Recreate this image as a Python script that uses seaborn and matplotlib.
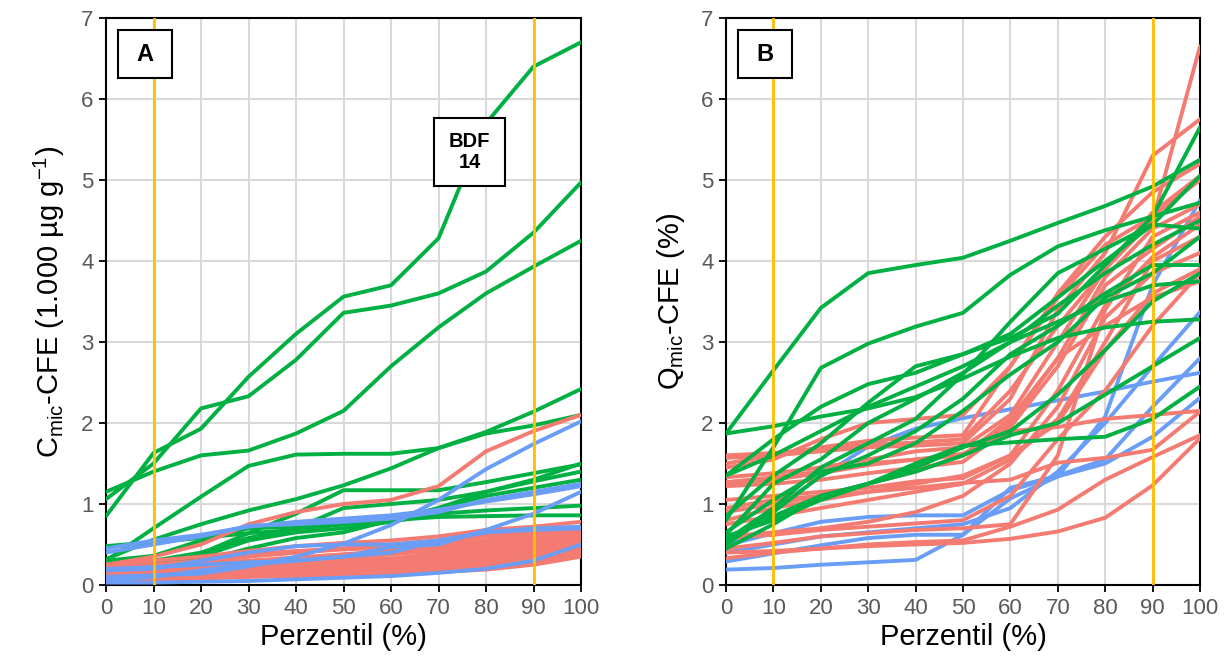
import numpy as np
import pandas as pd
import matplotlib
matplotlib.use("Agg")
import matplotlib.pyplot as plt
from matplotlib.patches import Rectangle
import seaborn as sns

# ---------------- data ----------------
percentiles = [0, 10, 20, 30, 40, 50, 60, 70, 80, 90, 100]

# Panel A : Cmic-CFE (1.000 µg g-1)
A_green = [
    [0.85, 1.63, 1.93, 2.57, 3.10, 3.56, 3.70, 4.28, 5.70, 6.40, 6.70],   # BDF 14
    [1.06, 1.50, 2.18, 2.33, 2.78, 3.36, 3.45, 3.60, 3.87, 4.35, 4.97],
    [1.15, 1.40, 1.60, 1.66, 1.87, 2.15, 2.70, 3.18, 3.60, 3.93, 4.25],
    [0.30, 0.70, 1.09, 1.47, 1.61, 1.62, 1.62, 1.69, 1.87, 1.97, 2.10],
    [0.32, 0.56, 0.75, 0.92, 1.06, 1.23, 1.44, 1.69, 1.89, 2.14, 2.42],
    [0.17, 0.23, 0.39, 0.64, 0.88, 1.17, 1.17, 1.17, 1.27, 1.38, 1.49],
    [0.48, 0.53, 0.58, 0.64, 0.68, 0.75, 0.80, 0.95, 1.15, 1.28, 1.40],
    [0.30, 0.36, 0.55, 0.70, 0.72, 0.75, 0.80, 0.84, 0.85, 0.86, 0.86],
    [0.20, 0.25, 0.35, 0.55, 0.65, 0.70, 0.78, 0.88, 0.92, 0.95, 0.98],
    [0.20, 0.30, 0.40, 0.58, 0.70, 0.95, 1.00, 1.05, 1.15, 1.30, 1.50],
    [0.18, 0.25, 0.30, 0.45, 0.58, 0.65, 0.80, 0.95, 1.10, 1.20, 1.30],
    [0.10, 0.12, 0.15, 0.18, 0.20, 0.22, 0.25, 0.28, 0.32, 0.35, 0.40],
]
A_red = [
    [0.25, 0.35, 0.50, 0.75, 0.90, 1.00, 1.05, 1.22, 1.65, 1.90, 2.10],
    [0.25, 0.30, 0.35, 0.42, 0.48, 0.52, 0.55, 0.60, 0.68, 0.72, 0.78],
    [0.22, 0.25, 0.30, 0.38, 0.42, 0.45, 0.48, 0.52, 0.62, 0.66, 0.70],
    [0.20, 0.22, 0.26, 0.30, 0.34, 0.38, 0.42, 0.48, 0.55, 0.60, 0.62],
    [0.18, 0.20, 0.22, 0.26, 0.30, 0.33, 0.38, 0.42, 0.52, 0.58, 0.60],
    [0.15, 0.17, 0.20, 0.23, 0.27, 0.30, 0.33, 0.38, 0.48, 0.55, 0.58],
    [0.14, 0.15, 0.18, 0.21, 0.24, 0.27, 0.30, 0.35, 0.45, 0.52, 0.55],
    [0.12, 0.14, 0.16, 0.19, 0.22, 0.25, 0.28, 0.32, 0.42, 0.48, 0.52],
    [0.12, 0.13, 0.15, 0.17, 0.20, 0.23, 0.26, 0.30, 0.38, 0.45, 0.50],
    [0.10, 0.12, 0.14, 0.16, 0.18, 0.21, 0.24, 0.27, 0.35, 0.42, 0.48],
    [0.10, 0.11, 0.13, 0.15, 0.17, 0.19, 0.22, 0.25, 0.32, 0.40, 0.45],
    [0.08, 0.10, 0.12, 0.14, 0.16, 0.18, 0.20, 0.24, 0.30, 0.38, 0.43],
    [0.08, 0.09, 0.11, 0.13, 0.15, 0.17, 0.19, 0.22, 0.28, 0.35, 0.40],
    [0.07, 0.08, 0.10, 0.12, 0.14, 0.15, 0.17, 0.20, 0.25, 0.32, 0.38],
    [0.06, 0.07, 0.09, 0.11, 0.12, 0.14, 0.15, 0.18, 0.22, 0.28, 0.36],
    [0.05, 0.06, 0.08, 0.10, 0.11, 0.12, 0.14, 0.16, 0.19, 0.25, 0.35],
    [0.18, 0.22, 0.28, 0.35, 0.40, 0.45, 0.50, 0.55, 0.62, 0.64, 0.65],
    [0.15, 0.18, 0.22, 0.28, 0.32, 0.36, 0.42, 0.45, 0.55, 0.60, 0.68],
    [0.20, 0.24, 0.30, 0.36, 0.40, 0.44, 0.46, 0.50, 0.60, 0.62, 0.64],
    [0.10, 0.13, 0.17, 0.20, 0.24, 0.28, 0.31, 0.36, 0.46, 0.54, 0.60],
]
A_blue = [
    [0.45, 0.55, 0.62, 0.72, 0.78, 0.82, 0.86, 0.93, 1.03, 1.12, 1.22],
    [0.10, 0.12, 0.14, 0.23, 0.35, 0.51, 0.74, 1.05, 1.43, 1.74, 2.02],
    [0.05, 0.10, 0.18, 0.25, 0.30, 0.35, 0.47, 0.50, 0.68, 0.88, 1.15],
    [0.18, 0.20, 0.30, 0.40, 0.48, 0.50, 0.50, 0.55, 0.65, 0.70, 0.72],
    [0.03, 0.03, 0.04, 0.05, 0.07, 0.09, 0.11, 0.15, 0.20, 0.30, 0.50],
    [0.20, 0.22, 0.25, 0.28, 0.30, 0.35, 0.40, 0.55, 0.65, 0.68, 0.70],
    [0.40, 0.50, 0.60, 0.73, 0.75, 0.78, 0.82, 0.90, 1.05, 1.15, 1.25],
]

# Panel B : Qmic-CFE (%)
B_green = [
    [1.87, 2.65, 3.42, 3.85, 3.95, 4.04, 4.25, 4.47, 4.68, 4.92, 5.25],
    [0.80, 1.70, 2.68, 2.98, 3.19, 3.36, 3.83, 4.18, 4.38, 4.55, 4.72],
    [1.87, 1.96, 2.08, 2.18, 2.32, 2.55, 2.82, 3.05, 3.18, 3.25, 3.28],
    [1.35, 1.80, 2.20, 2.48, 2.62, 2.85, 3.05, 3.35, 3.95, 4.55, 5.65],
    [0.85, 1.35, 1.75, 2.25, 2.70, 2.85, 3.10, 3.55, 4.00, 4.45, 5.05],
    [0.62, 1.25, 1.55, 2.00, 2.30, 2.62, 3.00, 3.45, 3.85, 4.20, 4.50],
    [0.55, 0.95, 1.45, 1.75, 2.05, 2.60, 3.25, 3.85, 4.15, 4.45, 4.40],
    [0.50, 0.90, 1.35, 1.60, 1.90, 2.30, 2.85, 3.20, 3.60, 3.95, 3.95],
    [0.65, 1.05, 1.40, 1.50, 1.75, 2.15, 2.60, 3.00, 3.55, 3.85, 4.30],
    [0.45, 0.75, 1.10, 1.25, 1.45, 1.70, 1.90, 2.35, 2.90, 3.50, 3.85],
    [0.55, 0.85, 1.10, 1.25, 1.50, 1.72, 1.76, 1.80, 1.83, 2.05, 2.45],
    [0.60, 0.80, 1.05, 1.25, 1.40, 1.60, 1.85, 2.00, 2.35, 2.70, 3.05],
    [1.35, 1.60, 1.90, 2.20, 2.45, 2.70, 3.00, 3.25, 3.50, 3.70, 3.75],
]
B_red = [
    [1.60, 1.63, 1.68, 1.73, 1.76, 1.80, 2.40, 3.20, 3.90, 4.60, 5.05],
    [1.57, 1.60, 1.65, 1.70, 1.72, 1.75, 2.30, 3.40, 4.10, 5.30, 5.75],
    [1.45, 1.55, 1.80, 2.00, 2.05, 2.10, 2.70, 3.55, 4.20, 4.55, 5.00],
    [1.33, 1.38, 1.45, 1.55, 1.65, 1.70, 2.10, 3.00, 3.90, 4.50, 6.65],
    [1.27, 1.33, 1.40, 1.50, 1.55, 1.60, 2.00, 2.80, 3.80, 4.40, 4.70],
    [1.22, 1.25, 1.30, 1.38, 1.45, 1.52, 1.95, 2.70, 3.70, 4.15, 4.55],
    [1.05, 1.10, 1.15, 1.20, 1.28, 1.32, 1.60, 2.40, 3.45, 4.05, 4.45],
    [0.95, 1.05, 1.10, 1.15, 1.20, 1.26, 1.30, 1.51, 1.57, 1.67, 2.14],
    [0.80, 0.95, 1.05, 1.15, 1.25, 1.35, 1.60, 2.00, 2.90, 3.60, 3.90],
    [0.75, 0.85, 0.95, 1.05, 1.15, 1.25, 1.55, 2.05, 3.00, 4.00, 4.30],
    [0.58, 0.62, 0.68, 0.72, 0.76, 0.80, 1.10, 1.80, 2.40, 3.20, 3.85],
    [0.45, 0.52, 0.60, 0.64, 0.68, 0.70, 0.75, 1.60, 3.40, 4.30, 4.60],
    [0.40, 0.42, 0.45, 0.48, 0.50, 0.52, 0.57, 0.66, 0.83, 1.23, 1.81],
    [0.33, 0.40, 0.45, 0.50, 0.53, 0.55, 0.72, 0.93, 1.30, 1.58, 1.85],
    [1.50, 1.60, 1.70, 1.78, 1.82, 1.85, 2.70, 3.60, 4.30, 4.85, 5.20],
    [0.90, 1.00, 1.10, 1.25, 1.40, 1.60, 2.05, 2.80, 3.20, 3.55, 3.75],
    [0.60, 0.65, 0.70, 0.78, 0.90, 1.10, 1.50, 2.20, 3.30, 3.85, 4.10],
    [1.25, 1.30, 1.38, 1.48, 1.55, 1.62, 1.90, 1.95, 2.05, 2.10, 2.15],
]
B_blue = [
    [0.47, 0.93, 1.34, 1.71, 1.93, 2.06, 2.17, 2.28, 2.39, 2.51, 2.62],
    [0.49, 0.64, 0.78, 0.84, 0.86, 0.86, 1.17, 1.34, 1.50, 1.83, 2.31],
    [0.29, 0.39, 0.49, 0.58, 0.62, 0.62, 1.07, 1.34, 2.08, 3.70, 4.75],
    [0.19, 0.21, 0.25, 0.28, 0.31, 0.62, 1.20, 1.35, 1.55, 2.20, 2.80],
    [0.40, 0.50, 0.60, 0.65, 0.70, 0.75, 0.95, 1.40, 2.00, 2.70, 3.37],
]

x_ticks = [0, 10, 20, 30, 40, 50, 60, 70, 80, 90, 100]
y_ticks = [0, 1, 2, 3, 4, 5, 6, 7]
marker_lines = [10, 90]

GREEN = "#00B043"
RED = "#F47B72"
BLUE = "#6A9EF6"
YELLOW = "#FFC000"


def to_long(groups):
    rows = []
    for gname, series in groups:
        for i, s in enumerate(series):
            for xv, yv in zip(percentiles, s):
                rows.append({"group": gname, "id": f"{gname}{i}", "x": xv, "y": yv})
    return pd.DataFrame(rows)


sns.set_theme(style="white")
plt.rcParams["font.family"] = ["Liberation Sans", "DejaVu Sans"]
plt.rcParams["mathtext.fontset"] = "custom"
plt.rcParams["mathtext.rm"] = "Liberation Sans"
plt.rcParams["mathtext.default"] = "regular"
plt.rcParams["text.color"] = "black"
plt.rcParams["axes.labelcolor"] = "black"

fig = plt.figure(figsize=(12.25, 6.67), dpi=100)
axA = fig.add_axes([106 / 1225, 82 / 667, 475 / 1225, 567 / 667])
axB = fig.add_axes([726 / 1225, 82 / 667, 474 / 1225, 567 / 667])

palette = {"green": GREEN, "red": RED, "blue": BLUE}

panels = [
    (axA, [("green", A_green), ("red", A_red), ("blue", A_blue)],
     "C$_{mic}$-CFE (1.000 µg g$^{-1}$)", "A"),
    (axB, [("blue", B_blue), ("red", B_red), ("green", B_green)],
     "Q$_{mic}$-CFE (%)", "B"),
]

for ax, groups, ylabel, letter in panels:
    ax.set_axisbelow(True)
    ax.grid(True, color="#D9D9D9", lw=1.5)
    df = to_long(groups)
    for gname, _ in groups:
        sub = df[df["group"] == gname]
        sns.lineplot(data=sub, x="x", y="y", units="id", estimator=None,
                     color=palette[gname], lw=2.8, ax=ax, legend=False,
                     sort=False, zorder=3)
    for xv in marker_lines:
        ax.axvline(xv, color=YELLOW, lw=2, zorder=4)
    ax.set_xlim(0, 100)
    ax.set_ylim(0, 7)
    ax.set_xticks(x_ticks)
    ax.set_yticks(y_ticks)
    ax.tick_params(axis="both", labelsize=16, labelcolor="#595959", length=5,
                   width=1.3, direction="out", bottom=True, left=True, pad=4,
                   color="black")
    for sp in ax.spines.values():
        sp.set_color("black")
        sp.set_linewidth(1.5)
        sp.set_visible(True)
    ax.set_xlabel("Perzentil (%)", fontsize=21, color="black", labelpad=3)
    ax.set_ylabel(ylabel, fontsize=21, color="black", labelpad=10)
    # panel letter box
    ax.add_patch(Rectangle((0.025, 0.894), 0.114, 0.085, transform=ax.transAxes,
                           facecolor="white", edgecolor="black", lw=1.5, zorder=6))
    ax.text(0.025 + 0.057, 0.894 + 0.0425, letter, transform=ax.transAxes,
            ha="center", va="center", fontsize=17, fontweight="bold",
            color="black", zorder=7)

# BDF 14 label
axA.add_patch(Rectangle((0.69, 0.704), 0.15, 0.12, transform=axA.transAxes,
                        facecolor="white", edgecolor="black", lw=1.5, zorder=6))
axA.text(0.765, 0.764, "BDF\n14", transform=axA.transAxes, ha="center", va="center",
         fontsize=14.5, fontweight="bold", color="black", zorder=7, linespacing=1.1)

fig.savefig("out.png", dpi=100)
